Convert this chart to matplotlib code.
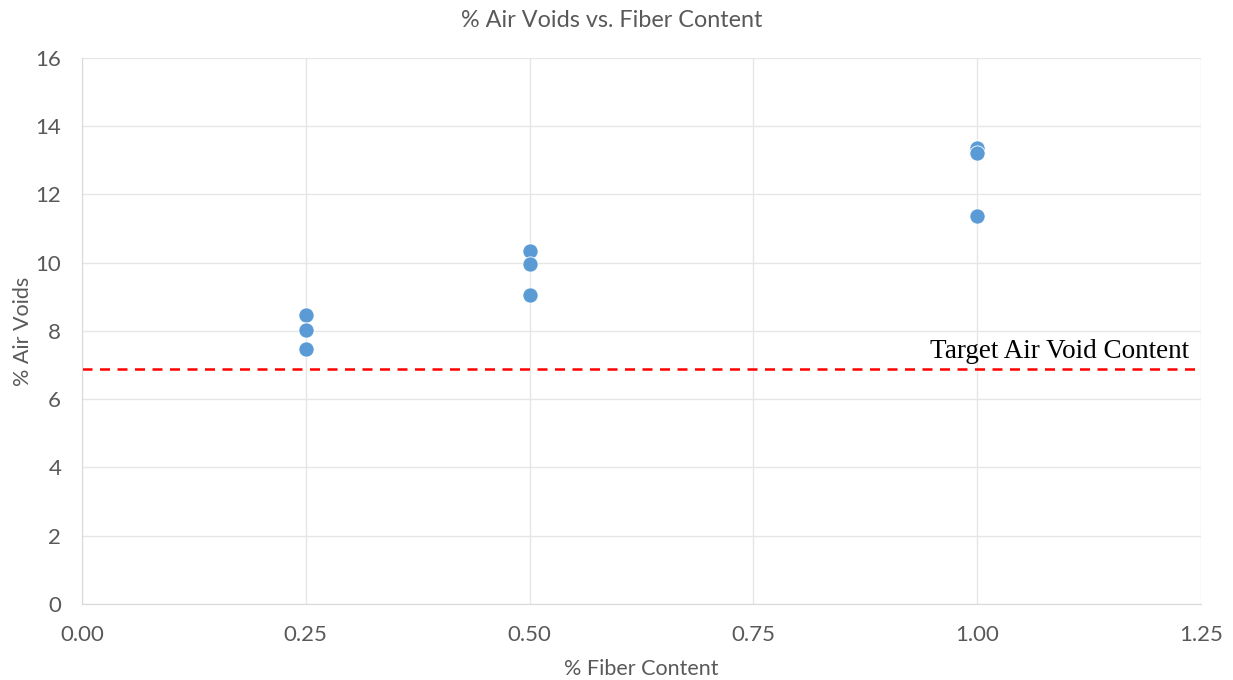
import matplotlib
matplotlib.use('Agg')
import matplotlib.pyplot as plt

# Fiber content (%) and measured air voids (%) for each specimen
fiber_content = [0.25, 0.25, 0.25, 0.50, 0.50, 0.50, 1.00, 1.00, 1.00]
air_voids = [8.47, 8.03, 7.47, 10.34, 9.96, 9.05, 13.36, 13.22, 11.37]
target_air_voids = 6.9

x_ticks = [0.00, 0.25, 0.50, 0.75, 1.00, 1.25]
y_ticks = [0, 2, 4, 6, 8, 10, 12, 14, 16]

text_color = '#595959'
grid_color = '#e6e6e6'
plt.rcParams['font.family'] = ['Lato', 'DejaVu Sans']

fig = plt.figure(figsize=(12.33, 6.8), dpi=100)
ax = fig.add_axes([0.0665, 0.1118, 0.9075, 0.8029])

ax.scatter(fiber_content, air_voids, s=120, color='#5b9bd5',
           edgecolors='white', linewidths=0.6, zorder=3)

# Target air void line with label
ax.axhline(target_air_voids, color='red', linestyle=(0, (4, 3)), linewidth=1.8, zorder=2)
ax.text(1.237, target_air_voids + 0.12, 'Target Air Void Content',
        family='Liberation Serif', fontsize=19.5, color='black',
        ha='right', va='bottom')

ax.set_xlim(0, 1.25)
ax.set_ylim(0, 16)
ax.set_xticks(x_ticks)
ax.set_xticklabels([f'{t:.2f}' for t in x_ticks])
ax.set_yticks(y_ticks)
ax.grid(True, color=grid_color, linewidth=1)
ax.set_axisbelow(True)

for side in ['top', 'right']:
    ax.spines[side].set_visible(False)
for side in ['left', 'bottom']:
    ax.spines[side].set_color('#d9d9d9')
ax.tick_params(length=0, colors=text_color, labelsize=16)
ax.tick_params(axis='x', pad=15)
ax.tick_params(axis='y', pad=15)

fig.suptitle('% Air Voids vs. Fiber Content', color=text_color, fontsize=16.8,
             x=0.4965, y=0.97, va='center')
ax.set_xlabel('% Fiber Content', color=text_color, fontsize=15.5, labelpad=10)
ax.set_ylabel('% Air Voids', color=text_color, fontsize=15.5, labelpad=2)

fig.savefig('out.png', dpi=100)
